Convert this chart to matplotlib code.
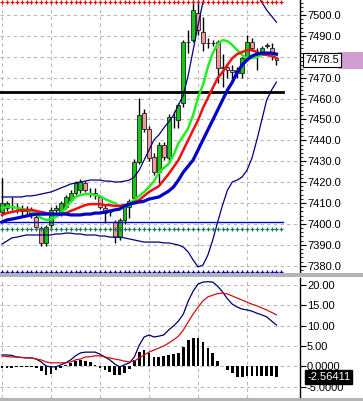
import numpy as np
import matplotlib
matplotlib.use("Agg")
import matplotlib.pyplot as plt
from matplotlib.patches import Rectangle
from matplotlib.ticker import MultipleLocator
import matplotlib.transforms as mtransforms

plt.rcParams['font.family'] = ['Liberation Sans', 'DejaVu Sans']

# velas (open, high, low, close)
opens = [7405.7, 7407.6, 7408.5, 7408.0, 7407.0, 7406.0, 7407.0, 7403.3, 7398.0, 7390.9,
         7399.5, 7406.7, 7405.2, 7408.1, 7411.4, 7414.8, 7416.2, 7419.6, 7415.0, 7414.8,
         7412.9, 7407.6, 7405.7, 7400.9, 7393.7, 7401.9, 7408.1, 7412.4, 7429.6, 7453.1,
         7445.4, 7432.0, 7424.8, 7437.8, 7431.5, 7451.2, 7449.7, 7457.9, 7487.1, 7488.0,
         7501.0, 7491.9, 7486.6, 7486.6, 7487.1, 7475.1, 7475.1, 7473.7, 7473.7, 7472.2,
         7479.4, 7487.1, 7482.5, 7482.3, 7485.6, 7484.2, 7479.4]
highs = [7422.0, 7411.0, 7412.9, 7410.0, 7409.0, 7408.5, 7408.0, 7404.5, 7399.0, 7399.5,
         7408.0, 7409.0, 7411.0, 7414.0, 7416.0, 7420.5, 7421.5, 7420.5, 7417.0, 7417.0,
         7414.0, 7409.0, 7407.0, 7402.0, 7403.0, 7409.0, 7412.0, 7431.0, 7460.3, 7455.0,
         7447.0, 7434.0, 7439.0, 7439.0, 7452.5, 7454.0, 7458.0, 7488.0, 7492.8, 7507.0,
         7507.0, 7499.0, 7489.0, 7488.0, 7488.0, 7481.3, 7477.0, 7476.0, 7475.0, 7480.0,
         7490.4, 7489.0, 7484.2, 7485.0, 7486.5, 7486.6, 7480.0]
lows = [7404.0, 7406.0, 7406.7, 7405.0, 7404.0, 7404.0, 7403.0, 7397.0, 7389.5, 7389.5,
        7398.0, 7405.0, 7404.0, 7407.0, 7410.5, 7414.0, 7415.0, 7415.5, 7413.0, 7412.0,
        7407.0, 7400.4, 7404.0, 7390.9, 7392.5, 7400.0, 7403.0, 7411.0, 7428.5, 7444.0,
        7430.0, 7423.5, 7419.6, 7430.5, 7430.0, 7446.0, 7445.9, 7456.0, 7481.8, 7487.0,
        7490.5, 7483.0, 7484.0, 7485.0, 7467.4, 7465.5, 7470.0, 7469.0, 7470.0, 7469.8,
        7478.0, 7483.0, 7473.7, 7481.5, 7484.0, 7478.5, 7476.1]
closes = [7410.0, 7410.0, 7408.0, 7407.5, 7406.0, 7407.0, 7405.0, 7398.5, 7390.9, 7398.5,
          7406.7, 7407.6, 7410.0, 7412.9, 7414.8, 7419.6, 7420.1, 7416.2, 7414.8, 7414.5,
          7408.1, 7405.2, 7405.5, 7393.7, 7401.9, 7408.1, 7411.0, 7429.6, 7452.1, 7445.4,
          7431.5, 7424.8, 7437.8, 7432.0, 7451.2, 7451.0, 7456.9, 7487.1, 7487.0, 7502.4,
          7492.8, 7486.6, 7486.4, 7486.8, 7474.6, 7474.8, 7473.7, 7472.7, 7472.2, 7479.4,
          7487.1, 7484.2, 7482.3, 7484.2, 7485.4, 7481.8, 7478.5]

# medias moviles
ma_verde = [7407.6, 7408.1, 7408.1, 7407.6, 7407.1, 7406.7, 7406.2, 7404.7, 7402.8, 7401.9,
            7402.3, 7403.3, 7404.7, 7407.6, 7410.5, 7412.9, 7413.8, 7414.3, 7414.3, 7413.8,
            7413.4, 7411.9, 7410.9, 7410.0, 7408.6, 7408.1, 7410.0, 7411.4, 7413.4, 7415.3,
            7417.7, 7420.5, 7424.4, 7426.8, 7428.7, 7433.0, 7438.7, 7442.1, 7445.9, 7452.1,
            7460.7, 7466.5, 7475.1, 7481.8, 7486.1, 7488.0, 7487.5, 7485.6, 7483.2, 7480.9,
            7479.4, 7479.4, 7479.9, 7480.9, 7481.3, 7481.3, 7480.9]
ma_roja = [7404.3, 7405.2, 7405.7, 7406.2, 7406.7, 7406.7, 7406.7, 7406.2, 7405.7, 7405.2,
           7404.7, 7404.7, 7404.7, 7405.2, 7406.2, 7407.1, 7408.1, 7409.0, 7409.5, 7409.5,
           7409.5, 7409.0, 7409.0, 7408.6, 7408.6, 7409.0, 7409.5, 7410.5, 7411.4, 7413.4,
           7415.3, 7416.7, 7418.1, 7421.0, 7423.9, 7427.2, 7430.6, 7435.4, 7440.2, 7445.0,
           7449.7, 7455.5, 7460.3, 7465.1, 7469.8, 7472.7, 7476.1, 7479.4, 7481.3, 7482.3,
           7483.2, 7483.2, 7482.3, 7481.3, 7480.9, 7480.4, 7479.4]
ma_azul = [7400.9, 7401.9, 7402.3, 7402.8, 7403.3, 7403.8, 7404.3, 7404.7, 7404.7, 7404.7,
           7404.7, 7404.7, 7404.7, 7404.7, 7404.3, 7404.3, 7404.3, 7404.7, 7404.7, 7405.2,
           7405.2, 7405.7, 7406.2, 7406.7, 7407.1, 7408.6, 7409.5, 7410.0, 7410.5, 7410.9,
           7411.9, 7412.4, 7412.9, 7414.3, 7415.7, 7417.7, 7421.0, 7424.8, 7427.7, 7430.6,
           7435.4, 7440.2, 7445.0, 7449.7, 7454.5, 7459.3, 7464.1, 7467.9, 7472.7, 7476.1,
           7478.5, 7480.4, 7481.3, 7481.8, 7481.8, 7481.8, 7481.3]
banda_sup = [7412.9, 7412.9, 7412.9, 7412.9, 7412.9, 7413.4, 7413.4, 7413.8, 7414.3, 7414.8,
             7415.3, 7416.2, 7417.2, 7418.1, 7419.1, 7419.6, 7420.1, 7420.5, 7421.0, 7421.0,
             7421.0, 7420.5, 7420.5, 7420.1, 7420.1, 7420.5, 7421.0, 7422.5, 7425.8, 7430.6,
             7435.4, 7440.2, 7442.6, 7445.9, 7448.8, 7452.1, 7456.9, 7461.7, 7471.3, 7483.2,
             7495.2, 7506.2, 7514.4, 7520.6, 7524.4, 7526.3, 7526.3, 7524.4, 7521.5, 7518.7,
             7515.8, 7512.9, 7509.6, 7506.2, 7502.4, 7499.5, 7496.6]
banda_inf = [7390.4, 7391.8, 7393.3, 7393.7, 7394.2, 7394.7, 7394.7, 7394.7, 7394.7, 7394.7,
             7394.7, 7395.2, 7395.2, 7395.6, 7395.6, 7395.2, 7395.2, 7394.7, 7394.7, 7394.7,
             7394.2, 7394.2, 7393.7, 7393.7, 7393.7, 7393.3, 7392.8, 7392.3, 7391.8, 7391.3,
             7391.3, 7391.3, 7391.3, 7390.9, 7390.9, 7390.4, 7389.9, 7388.9, 7386.5, 7382.7,
             7379.4, 7380.3, 7385.1, 7392.3, 7400.9, 7409.0, 7416.2, 7420.1, 7421.0, 7422.5,
             7425.8, 7431.5, 7440.2, 7449.7, 7459.3, 7464.1, 7467.9]

# niveles horizontales
nivel_rojo = 7506.2
nivel_negro = 7463.3
nivel_azul = 7400.8
nivel_verde = 7397.4
nivel_azul_pts = 7377.1
precio_actual = 7478.5

# ejes de precio (la de 7480 queda tapada por la etiqueta del precio)
ticks_precio = [7380, 7390, 7400, 7410, 7420, 7430, 7440, 7450, 7460, 7470, 7480, 7490, 7500]
etiquetas_precio = ["7380.0", "7390.0", "7400.0", "7410.0", "7420.0", "7430.0", "7440.0",
                    "7450.0", "7460.0", "7470.0", "", "7490.0", "7500.0"]

# MACD
macd = [2.8, 2.8, 2.7, 2.3, 2.2, 2.1, 2.1, 1.8, 1.1, 0.1,
        -0.1, -0.1, 0.4, 0.9, 1.6, 2.6, 3.3, 3.5, 3.5, 3.5,
        3.0, 2.3, 1.6, 0.6, -0.1, 0.4, 0.9, 2.3, 5.2, 7.2,
        7.7, 7.2, 7.4, 7.7, 8.9, 9.9, 11.1, 12.8, 16.0, 18.4,
        20.1, 20.6, 20.7, 20.6, 19.6, 18.2, 16.5, 15.2, 14.5, 14.0,
        13.8, 13.5, 13.0, 12.6, 12.1, 11.1, 10.1]
senal = [2.6, 2.4, 2.3, 2.3, 2.2, 2.1, 2.1, 1.8, 1.6, 1.1,
         0.9, 0.9, 0.9, 0.9, 1.1, 1.6, 1.8, 2.3, 2.4, 2.6,
         2.6, 2.3, 2.1, 1.8, 1.6, 1.3, 1.1, 1.3, 2.1, 2.8,
         3.5, 4.0, 4.5, 5.0, 5.7, 6.5, 7.4, 8.9, 10.9, 12.8,
         14.5, 16.0, 17.0, 17.4, 17.8, 17.9, 17.7, 17.2, 16.7, 16.2,
         15.7, 15.2, 14.8, 14.3, 13.8, 13.2, 12.6]
histo = [-0.4, -0.3, -0.3, -0.2, -0.2, -0.1, -0.1, -0.3, -1.2, -2.0,
         -1.8, -0.8, -0.3, 0.4, 0.9, 1.3, 1.5, 1.4, 1.0, 0.4,
         -0.3, -0.9, -1.3, -2.0, -2.0, -1.5, -0.5, 1.6, 3.5, 4.0,
         3.3, 2.3, 2.3, 2.6, 2.8, 3.0, 3.3, 4.8, 6.5, 7.0,
         7.0, 6.0, 4.5, 3.3, 1.3, 0.1, -0.9, -1.6, -2.6, -2.6,
         -2.4, -2.4, -2.4, -2.4, -2.4, -2.4, -2.56411]
ticks_macd = [20, 15, 10, 5, 0, -5]
etiquetas_macd = ["20.00", "15.00", "10.00", "5.00", "0.0000", "-5.0000"]

W, H = 363, 401
fig = plt.figure(figsize=(W / 100, H / 100), dpi=100)
fig.patch.set_facecolor("white")

ax1 = fig.add_axes([0, (H - 273) / H, 300 / W, 273 / H])
ax2 = fig.add_axes([0, (H - 398) / H, 300 / W, 120 / H])

n = len(closes)
x = np.arange(n)
xlim = (-0.41, 60.8)

def estilo(ax):
    ax.set_xlim(*xlim)
    for s in ["left", "top", "bottom"]:
        ax.spines[s].set_visible(False)
    ax.spines["right"].set_linewidth(1)
    ax.yaxis.tick_right()
    ax.set_xticks(np.arange(0, 60, 10))
    ax.tick_params(axis="x", length=0, labelbottom=False)
    ax.tick_params(axis="y", direction="out", length=4, width=0.8, pad=1, labelsize=8)
    ax.grid(True, color="#b8b8b8", linestyle=(0, (3, 3)), linewidth=0.8)
    ax.set_axisbelow(True)

# panel de precios
estilo(ax1)
ax1.set_ylim(7376.5, 7507.2)
ax1.set_yticks(ticks_precio)
ax1.set_yticklabels(etiquetas_precio)
ax1.yaxis.set_minor_locator(MultipleLocator(2))
ax1.tick_params(axis="y", which="minor", length=2, width=0.6)

o = np.array(opens); c = np.array(closes)
sube = c >= o
col = np.where(sube, "#14c814", "#f09a9a")
ax1.vlines(x, lows, highs, color="black", lw=1, zorder=2)
ax1.bar(x, c - o, bottom=o, width=0.8, color=col, edgecolor="#202020", linewidth=0.6, zorder=3)

ax1.plot(x, banda_sup, color="#000080", lw=0.9, zorder=4)
ax1.plot(x, banda_inf, color="#000080", lw=0.9, zorder=4)
ax1.plot(x, ma_verde, color="#22ee22", lw=1.8, zorder=5)
ax1.plot(x, ma_roja, color="#ee1111", lw=1.8, zorder=6)
ax1.plot(x, ma_azul, color="#0000cc", lw=2.3, zorder=7)

xn = np.arange(n + 1)
ax1.plot(xn, [nivel_rojo] * len(xn), ls="none", marker="+", ms=3, mew=0.9, color="#e01010", zorder=4)
ax1.plot(xn, [nivel_verde] * len(xn), ls="none", marker="+", ms=3, mew=0.9, color="#1e7a50", zorder=4)
ax1.plot(xn, [nivel_azul_pts] * len(xn), ls="none", marker="+", ms=3, mew=0.9, color="#0000cc", zorder=4)
ax1.plot([xlim[0], n + 0.3], [nivel_negro] * 2, color="black", lw=2, zorder=4)
ax1.plot([xlim[0], n + 0.3], [nivel_azul] * 2, color="#0000cc", lw=1, zorder=4)

# etiqueta de precio
tr = mtransforms.blended_transform_factory(fig.transFigure, ax1.transData)
ax1.add_patch(Rectangle((338 / W, precio_actual - 4.3), 25 / W, 8.2, transform=tr,
                        facecolor="#d29ed2", edgecolor="none", clip_on=False, zorder=8))
ax1.text(305 / W, precio_actual, "%.1f" % precio_actual, transform=tr, fontsize=8,
         va="center", ha="left", clip_on=False, zorder=9,
         bbox=dict(boxstyle="square,pad=0.2", facecolor="white", edgecolor="black", linewidth=0.8))

# panel MACD
estilo(ax2)
ax2.set_ylim(-7.7, 21.6)
ax2.set_yticks(ticks_macd)
ax2.set_yticklabels(etiquetas_macd)
ax2.bar(x, histo, width=0.55, color="black", zorder=3)
ax2.plot(x, macd, color="#000066", lw=0.9, zorder=4)
ax2.plot(x, senal, color="#cc1111", lw=0.9, zorder=4)
tr2 = mtransforms.blended_transform_factory(fig.transFigure, ax2.transData)
ax2.text(307 / W, histo[-1], "%.5f" % histo[-1], transform=tr2, fontsize=8, color="white",
         va="center", ha="left", clip_on=False, zorder=9,
         bbox=dict(boxstyle="square,pad=0.2", facecolor="black", edgecolor="black"))

# separadores grises
fig.patches.append(Rectangle((0, (H - 277) / H), 1, 4 / H, transform=fig.transFigure,
                             facecolor="#b4b4b4", edgecolor="none"))
fig.patches.append(Rectangle((0, 0), 1, 3 / H, transform=fig.transFigure,
                             facecolor="#b4b4b4", edgecolor="none"))

fig.savefig("out.png", dpi=100)
